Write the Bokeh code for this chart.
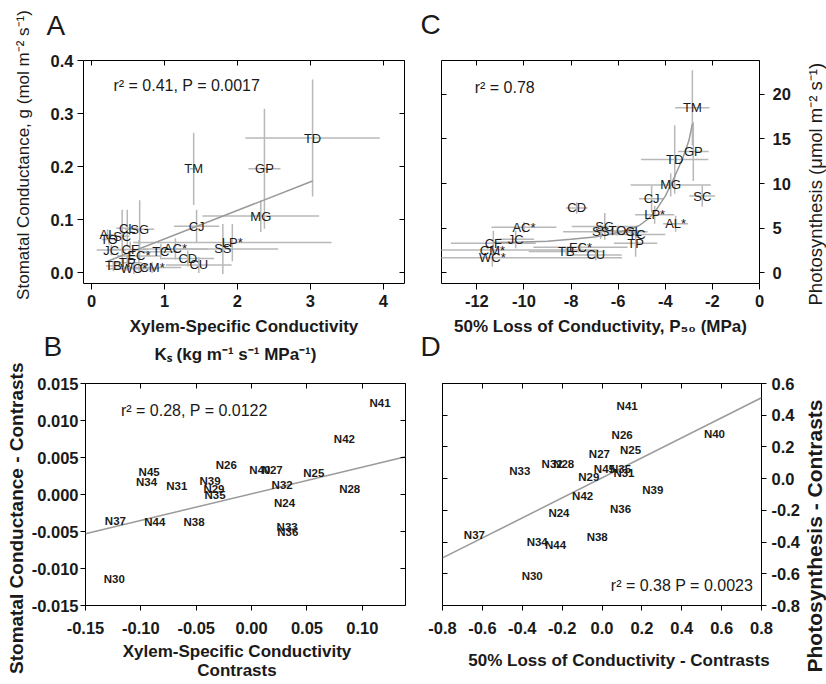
from bokeh.plotting import figure
from bokeh.models import ColumnDataSource, FixedTicker, LinearAxis, Label, Range1d, Title
from bokeh.layouts import row, column
from bokeh.embed import file_html
from bokeh.resources import INLINE
from bokeh.core.properties import value

FONT = "Liberation Sans"
INK = "#1a1a1a"
BAR = "#b8b8b8"
FIT = "#9a9a9a"
EM = "\u2003"
EN = "\u2002"

# ---------------- Panel A: g vs Ks (species means) ----------------
a_species = ["TD", "GP", "TM", "MG", "CJ", "LP*", "SS", "AC*", "TC", "CD", "CU", "CM*",
             "WC*", "TP", "TB", "EC*", "CF", "JC", "TO", "AL", "SC", "CL", "SG"]
a_ks = [3.03, 2.37, 1.40, 2.32, 1.44, 1.93, 1.80, 1.15, 0.95, 1.32, 1.47, 0.83,
        0.58, 0.49, 0.30, 0.65, 0.53, 0.27, 0.24, 0.22, 0.42, 0.49, 0.66]
a_g = [0.254, 0.196, 0.196, 0.107, 0.088, 0.057, 0.045, 0.045, 0.040, 0.027, 0.015, 0.010,
       0.008, 0.019, 0.013, 0.032, 0.044, 0.043, 0.063, 0.072, 0.069, 0.084, 0.082]
a_ks_err = [0.92, 0.22, 0.05, 0.80, 0.31, 1.36, 0.76, 0.45, 0.25, 0.36, 0.45, 0.40,
            0.35, 0.20, 0.10, 0.30, 0.25, 0.20, 0.10, 0.08, 0.10, 0.15, 0.20]
a_g_err = [0.110, 0.113, 0.068, 0.030, 0.031, 0.035, 0.047, 0.020, 0.015, 0.015, 0.015, 0.010,
           0.010, 0.015, 0.010, 0.030, 0.015, 0.010, 0.010, 0.010, 0.050, 0.035, 0.055]
a_fit_x = [0.22, 3.03]
a_fit_y = [0.022, 0.173]
a_xticks = [0, 1, 2, 3, 4]
a_xtick_labels = ["0", "1", "2", "3", "4"]
a_yticks = [0.0, 0.1, 0.2, 0.3, 0.4]
a_ytick_labels = ["0.0", "0.1", "0.2", "0.3", "0.4"]

# ---------------- Panel C: photosynthesis vs P50 ----------------
c_species = ["TM", "GP", "TD", "MG", "SC", "CJ", "LP*", "AL*", "CD", "AC*", "JC", "CF",
             "CM*", "WC*", "TB", "EC*", "CU", "SG", "SS", "TO", "CL", "TC", "TP"]
c_p50 = [-2.85, -2.81, -3.60, -3.77, -2.43, -4.58, -4.45, -3.56, -7.76, -10.0, -10.35, -11.3,
         -11.34, -11.34, -8.2, -7.6, -6.95, -6.57, -6.74, -6.03, -5.35, -5.2, -5.26]
c_ps = [18.5, 13.6, 12.7, 9.85, 8.6, 8.3, 6.5, 5.5, 7.27, 5.1, 3.75, 3.3,
        2.55, 1.7, 2.4, 2.85, 2.0, 5.2, 4.6, 4.7, 4.6, 4.3, 3.3]
c_p50_err = [0.73, 0.65, 1.43, 1.7, 0.55, 0.53, 0.83, 0.53, 0.46, 1.38, 0.78, 1.8,
             4.5, 5.5, 1.6, 2.0, 1.1, 1.4, 1.6, 1.0, 0.6, 1.2, 0.92]
c_ps_err = [4.2, 3.3, 3.85, 1.3, 1.2, 1.5, 1.0, 0.9, 0.65, 0.6, 1.0, 1.4,
            0.5, 1.0, 0.5, 0.5, 0.6, 1.5, 0.8, 0.5, 0.5, 0.4, 1.5]
c_fit_x = [-11.3, -10.0, -9.0, -8.0, -7.0, -6.2, -5.6, -5.1, -4.7, -4.4, -4.0, -3.6, -3.25, -3.0, -2.85]
c_fit_y = [3.4, 3.45, 3.55, 3.75, 4.0, 4.4, 4.8, 5.3, 6.1, 7.0, 8.6, 10.8, 12.9, 14.8, 16.7]
c_xticks = [-12, -10, -8, -6, -4, -2, 0]
c_xtick_labels = ["-12", "-10", "-8", "-6", "-4", "-2", "0"]
c_yticks = [0, 5, 10, 15, 20]
c_ytick_labels = ["0", "5", "10", "15", "20"]

# ---------------- Panel B: contrasts g vs Ks ----------------
b_nodes = ["N41", "N42", "N26", "N40", "N27", "N25", "N45", "N34", "N31", "N39", "N29",
           "N35", "N32", "N28", "N24", "N37", "N44", "N38", "N33", "N36", "N30"]
b_ks = [0.116, 0.0838, -0.0228, 0.0075, 0.0186, 0.0562, -0.0925, -0.0949, -0.0676, -0.0375, -0.034,
        -0.033, 0.0276, 0.0886, 0.0297, -0.123, -0.0874, -0.052, 0.0321, 0.0327, -0.124]
b_g = [0.01236, 0.00746, 0.00393, 0.00326, 0.00326, 0.0029, 0.0030, 0.0017, 0.0011, 0.0018, 0.00076,
       0.0, 0.00134, 0.0008, -0.0011, -0.00357, -0.00366, -0.00366, -0.00438, -0.00505, -0.01138]
b_fit_x = [-0.15, 0.139]
b_fit_y = [-0.0053, 0.0051]
b_xticks = [-0.15, -0.10, -0.05, 0.0, 0.05, 0.10]
b_xtick_labels = ["-0.15", "-0.10", "-0.05", "0.00", "0.05", "0.10"]
b_yticks = [-0.015, -0.010, -0.005, 0.0, 0.005, 0.010, 0.015]
b_ytick_labels = ["-0.015", "-0.010", "-0.005", "0.000", "0.005", "0.010", "0.015"]

# ---------------- Panel D: contrasts photosynthesis vs P50 ----------------
d_nodes = ["N41", "N40", "N26", "N25", "N27", "N32", "N28", "N33", "N45", "N35", "N31",
           "N29", "N39", "N42", "N36", "N24", "N37", "N38", "N34", "N44", "N30"]
d_p50 = [0.126, 0.564, 0.101, 0.143, -0.013, -0.25, -0.192, -0.412, 0.012, 0.093, 0.11,
         -0.066, 0.255, -0.097, 0.093, -0.216, -0.64, -0.024, -0.325, -0.233, -0.35]
d_ps = [0.457, 0.284, 0.278, 0.179, 0.154, 0.09, 0.092, 0.049, 0.06, 0.06, 0.033,
        0.008, -0.072, -0.107, -0.191, -0.218, -0.354, -0.369, -0.40, -0.417, -0.616]
d_fit_x = [-0.8, 0.8]
d_fit_y = [-0.50, 0.51]
d_xticks = [-0.8, -0.6, -0.4, -0.2, 0.0, 0.2, 0.4, 0.6, 0.8]
d_xtick_labels = ["-0.8", "-0.6", "-0.4", "-0.2", "0.0", "0.2", "0.4", "0.6", "0.8"]
d_yticks = [-0.8, -0.6, -0.4, -0.2, 0.0, 0.2, 0.4, 0.6]
d_ytick_labels = ["-0.8", "-0.6", "-0.4", "-0.2", "0.0", "0.2", "0.4", "0.6"]

TICK_FONT = "16.5px"


def make_fig(w, h, xr, yr, borders, y_side, transparent=False):
    p = figure(width=w, height=h, x_range=Range1d(*xr), y_range=Range1d(*yr),
               output_backend="svg", toolbar_location=None, tools="",
               y_axis_location=y_side,
               min_border_left=borders[0], min_border_right=borders[1],
               min_border_top=borders[2], min_border_bottom=borders[3])
    p.grid.visible = False
    p.outline_line_color = "black"
    p.outline_line_width = 1
    p.outline_line_alpha = 1
    p.background_fill_color = "white"
    p.border_fill_color = None if transparent else "white"
    return p


def main_axis(ax, ticks, labels, tick_out, standoff):
    ax.ticker = FixedTicker(ticks=ticks)
    ax.major_label_overrides = dict(zip(ticks, labels))
    ax.major_tick_out = tick_out
    ax.major_tick_in = 0
    ax.minor_tick_line_color = None
    ax.major_tick_line_color = "black"
    ax.axis_line_color = None
    ax.major_label_standoff = standoff
    ax.major_label_text_font = FONT
    ax.major_label_text_font_size = TICK_FONT
    ax.major_label_text_font_style = "bold"
    ax.major_label_text_color = INK


def axis_title(ax, text, size, style, standoff, line_height=1.2):
    ax.axis_label = text
    ax.axis_label_text_font = FONT
    ax.axis_label_text_font_size = size
    ax.axis_label_text_font_style = style
    ax.axis_label_standoff = standoff
    ax.axis_label_text_color = INK
    ax.axis_label_text_line_height = line_height


def inner_axis(p, side, ticks):
    ax = LinearAxis(ticker=FixedTicker(ticks=ticks), major_tick_in=5, major_tick_out=0,
                    minor_tick_line_color=None, axis_line_color=None,
                    major_label_text_font_size="1px", major_label_text_color=None,
                    major_label_standoff=0)
    p.add_layout(ax, side)


def panel_letter(p, letter, offset, standoff):
    t = p.title
    t.text = letter
    t.align = "left"
    t.offset = offset
    t.standoff = standoff
    t.vertical_align = "bottom"
    t.text_font = FONT
    t.text_font_size = "28px"
    t.text_font_style = "normal"
    t.text_color = INK


def add_errorbars(p, x, y, xe, ye):
    src = ColumnDataSource(dict(
        hx0=[a - e for a, e in zip(x, xe)], hx1=[a + e for a, e in zip(x, xe)], hy=y,
        vx=x, vy0=[b - e for b, e in zip(y, ye)], vy1=[b + e for b, e in zip(y, ye)]))
    p.segment(x0="hx0", y0="hy", x1="hx1", y1="hy", source=src, line_color=BAR, line_width=1.5)
    p.segment(x0="vx", y0="vy0", x1="vx", y1="vy1", source=src, line_color=BAR, line_width=1.5)


def add_names(p, x, y, names, size, style):
    src = ColumnDataSource(dict(x=x, y=y, name=names))
    p.text(x="x", y="y", text="name", source=src, text_font=value(FONT),
           text_font_size=size, text_font_style=style, text_color=INK,
           text_align="center", text_baseline="middle")


def note(p, x, y, text, size="16px", style="normal", align="left", baseline="middle"):
    p.add_layout(Label(x=x, y=y, text=text, text_font=FONT, text_font_size=size,
                       text_font_style=style, text_color=INK, text_align=align,
                       text_baseline=baseline))


def side_strip(w, h, ml, mt, mb, text, size, style, offset, margin=None):
    s = figure(width=w, height=h, output_backend="svg", toolbar_location=None, tools="",
               x_axis_location=None, y_axis_location=None,
               min_border_left=ml, min_border_right=0, min_border_top=mt, min_border_bottom=mb)
    s.outline_line_color = None
    s.background_fill_color = None
    s.border_fill_color = None
    s.add_layout(Title(text=text, align="left", offset=offset, standoff=0, vertical_align="bottom",
                       text_font=FONT, text_font_size=size, text_font_style=style,
                       text_color=INK), "left")
    if margin is not None:
        s.margin = margin
    return s


H1 = 384   # top row canvas height (canvas starts 16px above the window)
H2 = 383   # bottom row canvas height (overlaps the top row by 69px)

# ---------- A ----------
pA = make_fig(413, H1, (-0.11, 4.29), (-0.02, 0.4), (83, 9, 74, 85), "left")
main_axis(pA.below[0], a_xticks, a_xtick_labels, 6, 5)
main_axis(pA.left[0], a_yticks, a_ytick_labels, 6, 4)
axis_title(pA.below[0], "Xylem-Specific Conductivity\nK\u209b (kg m\u207b\u00b9 s\u207b\u00b9 MPa\u207b\u00b9)" + EM,
           "17px", "bold", 7, 1.5)
axis_title(pA.left[0], EM + EM + "Stomatal Conductance, g (mol m\u207b\u00b2 s\u207b\u00b9)", "17px", "normal", 15)
inner_axis(pA, "above", a_xticks)
inner_axis(pA, "right", a_yticks)
add_errorbars(pA, a_ks, a_g, a_ks_err, a_g_err)
pA.line(a_fit_x, a_fit_y, line_color=FIT, line_width=1.5)
add_names(pA, a_ks, a_g, a_species, "13px", "normal")
note(pA, 0.30, 0.353, "r\u00b2 = 0.41, P = 0.0017")
panel_letter(pA, "A", -37, 39)

# ---------- C ----------
pC = make_fig(387, H1, (-13.5, 0.0), (-1.2, 23.8), (28, 41, 76, 85), "right")
main_axis(pC.below[0], c_xticks, c_xtick_labels, 6, 5)
main_axis(pC.right[0], c_yticks, c_ytick_labels, 5, 8)
axis_title(pC.below[0], "50% Loss of Conductivity, P\u2085\u2080 (MPa)", "17px", "bold", 7)
inner_axis(pC, "above", c_xticks)
inner_axis(pC, "left", c_yticks)
add_errorbars(pC, c_p50, c_ps, c_p50_err, c_ps_err)
pC.line(c_fit_x, c_fit_y, line_color=FIT, line_width=1.5)
add_names(pC, c_p50, c_ps, c_species, "13px", "normal")
note(pC, -12.09, 20.8, "r\u00b2 = 0.78")
panel_letter(pC, "C", -21, 42)
sC = side_strip(26, H1, 25, 76, 85, "Photosynthesis  (\u03bcmol m\u207b\u00b2 s\u207b\u00b9)",
                "18.5px", "normal", -22)

# ---------- B ----------
pB = make_fig(413, H2, (-0.15, 0.139), (-0.015, 0.015), (85, 8, 84, 75), "left", transparent=True)
main_axis(pB.below[0], b_xticks, b_xtick_labels, 5, 11)
main_axis(pB.left[0], b_yticks, b_ytick_labels, 5, 2)
axis_title(pB.below[0], "Xylem-Specific Conductivity" + EN + EN + "\nContrasts" + EN + EN,
           "17px", "bold", 5, 1.0)
axis_title(pB.left[0], "Stomatal Conductance - Contrasts" + EM + EM + EN, "19px", "bold", 2)
inner_axis(pB, "above", b_xticks)
inner_axis(pB, "right", b_yticks)
pB.line(b_fit_x, b_fit_y, line_color=FIT, line_width=1.5)
add_names(pB, b_ks, b_g, b_nodes, "11.5px", "bold")
note(pB, -0.118, 0.01138, "r\u00b2 = 0.28, P = 0.0122")
panel_letter(pB, "B", -42, 44)

# ---------- D ----------
pD = make_fig(393, H2, (-0.8, 0.8), (-0.8, 0.6), (29, 45, 84, 76), "right", transparent=True)
main_axis(pD.below[0], d_xticks, d_xtick_labels, 5, 11)
main_axis(pD.right[0], d_yticks, d_ytick_labels, 5, 5)
axis_title(pD.below[0], EM + EM + "50% Loss of Conductivity - Contrasts", "17px", "bold", 14)
inner_axis(pD, "above", d_xticks)
inner_axis(pD, "left", d_yticks)
pD.line(d_fit_x, d_fit_y, line_color=FIT, line_width=1.5)
add_names(pD, d_p50, d_ps, d_nodes, "11.5px", "bold")
note(pD, 0.758, -0.674, "r\u00b2 = 0.38 P = 0.0023", align="right")
panel_letter(pD, "D", -22, 44)
sD = side_strip(27, H2, 26, 84, 76, "Photosynthesis - Contrasts", "21px", "bold", -67,
                margin=(0, 0, 0, -7))

top_row = row(pA, pC, sC)
bottom_row = row(pB, pD, sD, margin=(-69, 0, 0, 0))
layout = column(top_row, bottom_row, margin=(-16, 0, 0, 0))
open("out.html", "w").write(file_html(layout, INLINE))
